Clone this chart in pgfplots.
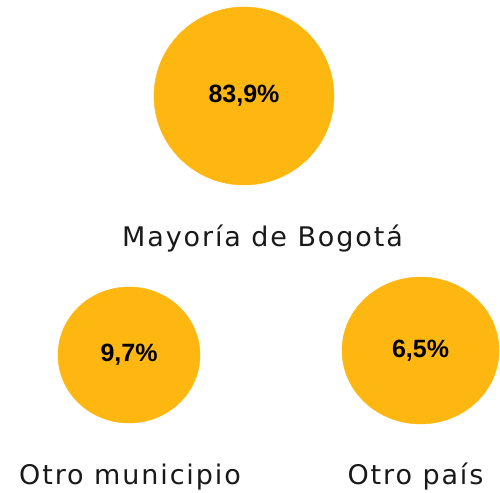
\documentclass[border=0pt]{standalone}
\usepackage{pgfplots}
\pgfplotsset{compat=1.18}
\usepackage{fontspec}
\setmainfont{DejaVu Sans}
\newfontfamily\labfont[LetterSpace=7]{DejaVu Sans}
\newfontfamily\numfont{Liberation Sans}
\definecolor{gold}{RGB}{253,183,16}
\begin{document}
\begin{tikzpicture}
\begin{axis}[
  scale only axis, width=500pt, height=492pt,
  xmin=0, xmax=500, ymin=0, ymax=492,
  axis lines=none, ticks=none, clip=false,
  nodes near coords, point meta=explicit symbolic,
  every node near coord/.append style={anchor=center, font=\numfont\bfseries\fontsize{25}{25}\selectfont, text=black},
]
\addplot[gold, only marks, mark=*, mark size=90pt, mark options={fill=gold, draw=gold, yscale=0.989}] coordinates {(244,396) [83,9\%]};
\addplot[gold, only marks, mark=*, mark size=71pt, mark options={fill=gold, draw=gold, yscale=0.958}] coordinates {(129,137) [9,7\%]};
\addplot[gold, only marks, mark=*, mark size=78.5pt, mark options={fill=gold, draw=gold, yscale=0.936}] coordinates {(420.5,141.5) [6,5\%]};
\node[font=\labfont\fontsize{27}{27}\selectfont, anchor=base, text=black!90, inner sep=0pt] at (axis cs:262.5,245) {Mayoría de Bogotá};
\node[font=\labfont\fontsize{27}{27}\selectfont, anchor=base, text=black!90, inner sep=0pt] at (axis cs:130,7) {Otro municipio};
\node[font=\labfont\fontsize{27}{27}\selectfont, anchor=base, text=black!90, inner sep=0pt] at (axis cs:415.5,7) {Otro país};
\end{axis}
\pgfresetboundingbox
\path (0,0) rectangle (500pt,492pt);
\end{tikzpicture}
\end{document}
